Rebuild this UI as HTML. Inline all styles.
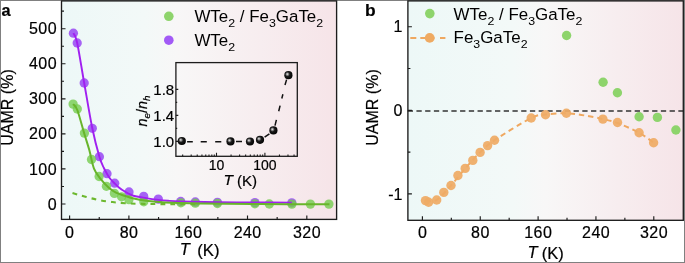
<!DOCTYPE html>
<html><head><meta charset="utf-8"><style>
html,body{margin:0;padding:0;background:#fff;overflow:hidden}
svg{display:block;will-change:transform}
text{font-family:"Liberation Sans", sans-serif;fill:#000;stroke:#000;stroke-width:0.2px}
</style></head><body>
<svg width="685" height="263" viewBox="0 0 685 263">
<defs>
<linearGradient id="ga" x1="0" x2="1" y1="0" y2="0"><stop offset="0" stop-color="#edf8f7"/><stop offset="0.3" stop-color="#f3f9f8"/><stop offset="0.42" stop-color="#f8f7f7"/><stop offset="1" stop-color="#f6e4e8"/></linearGradient>
<linearGradient id="gb" x1="0" x2="1" y1="0" y2="0"><stop offset="0" stop-color="#edf8f7"/><stop offset="0.38" stop-color="#f3f9f8"/><stop offset="0.5" stop-color="#f8f7f7"/><stop offset="1" stop-color="#f6e4e8"/></linearGradient>
<radialGradient id="sph" cx="0.42" cy="0.42" r="0.62" fx="0.36" fy="0.36"><stop offset="0" stop-color="#f4f4f4"/><stop offset="0.18" stop-color="#9a9a9a"/><stop offset="0.45" stop-color="#1a1a1a"/><stop offset="1" stop-color="#000"/></radialGradient>
</defs>
<rect x="0" y="0" width="685" height="263" fill="#fff"/>
<path d="M0.5,0V263M684.5,0V263M0,0.5H685M0,262.5H685" stroke="#808080" stroke-width="1" fill="none"/>
<rect x="61.5" y="0.9" width="275.1" height="218.5" fill="url(#ga)"/>
<circle cx="73.4" cy="33.2" r="4.65" fill="#a562f4"/>
<circle cx="77.2" cy="43.0" r="4.65" fill="#a562f4"/>
<circle cx="84.2" cy="83.0" r="4.65" fill="#a562f4"/>
<circle cx="92.3" cy="128.3" r="4.65" fill="#a562f4"/>
<circle cx="99.4" cy="156.7" r="4.65" fill="#a562f4"/>
<circle cx="107.0" cy="173.7" r="4.65" fill="#a562f4"/>
<circle cx="114.7" cy="183.2" r="4.65" fill="#a562f4"/>
<circle cx="129.0" cy="192.0" r="4.65" fill="#a562f4"/>
<circle cx="143.7" cy="196.4" r="4.65" fill="#a562f4"/>
<circle cx="158.3" cy="199.1" r="4.65" fill="#a562f4"/>
<circle cx="180.7" cy="201.5" r="4.65" fill="#a562f4"/>
<circle cx="195.3" cy="202.0" r="4.65" fill="#a562f4"/>
<circle cx="217.4" cy="202.3" r="4.65" fill="#a562f4"/>
<circle cx="254.9" cy="202.6" r="4.65" fill="#a562f4"/>
<circle cx="291.8" cy="202.8" r="4.65" fill="#a562f4"/>
<circle cx="73.1" cy="104.1" r="4.65" fill="#74cc4d" fill-opacity="0.8"/>
<circle cx="77.3" cy="109.0" r="4.65" fill="#74cc4d" fill-opacity="0.8"/>
<circle cx="84.4" cy="133.1" r="4.65" fill="#74cc4d" fill-opacity="0.8"/>
<circle cx="91.5" cy="159.5" r="4.65" fill="#74cc4d" fill-opacity="0.8"/>
<circle cx="99.1" cy="176.5" r="4.65" fill="#74cc4d" fill-opacity="0.8"/>
<circle cx="106.4" cy="186.3" r="4.65" fill="#74cc4d" fill-opacity="0.8"/>
<circle cx="114.4" cy="193.4" r="4.65" fill="#74cc4d" fill-opacity="0.8"/>
<circle cx="121.6" cy="196.8" r="4.65" fill="#74cc4d" fill-opacity="0.8"/>
<circle cx="128.9" cy="199.7" r="4.65" fill="#74cc4d" fill-opacity="0.8"/>
<circle cx="143.8" cy="201.8" r="4.65" fill="#74cc4d" fill-opacity="0.8"/>
<circle cx="180.9" cy="202.8" r="4.65" fill="#74cc4d" fill-opacity="0.8"/>
<circle cx="195.3" cy="203.2" r="4.65" fill="#74cc4d" fill-opacity="0.8"/>
<circle cx="217.4" cy="203.5" r="4.65" fill="#74cc4d" fill-opacity="0.8"/>
<circle cx="254.9" cy="203.8" r="4.65" fill="#74cc4d" fill-opacity="0.8"/>
<circle cx="269.3" cy="204.0" r="4.65" fill="#74cc4d" fill-opacity="0.8"/>
<circle cx="291.9" cy="204.1" r="4.65" fill="#74cc4d" fill-opacity="0.8"/>
<circle cx="310.4" cy="204.1" r="4.65" fill="#74cc4d" fill-opacity="0.8"/>
<circle cx="328.9" cy="204.1" r="4.65" fill="#74cc4d" fill-opacity="0.8"/>
<path d="M72.50,193.10 C73.75,193.45 77.08,194.38 80.00,195.20 C82.92,196.02 86.67,197.17 90.00,198.00 C93.33,198.83 96.33,199.53 100.00,200.20 C103.67,200.87 107.83,201.50 112.00,202.00 C116.17,202.50 120.33,202.90 125.00,203.20 C129.67,203.50 134.17,203.65 140.00,203.80 C145.83,203.95 150.00,204.02 160.00,204.10 C170.00,204.18 193.33,204.27 200.00,204.30" fill="none" stroke="#6cb82e" stroke-width="2.1" stroke-dasharray="4.9,5"/>
<path d="M73.40,33.20 C74.03,34.83 75.40,34.70 77.20,43.00 C79.00,51.30 81.68,68.78 84.20,83.00 C86.72,97.22 89.77,116.00 92.30,128.30 C94.83,140.60 97.47,150.18 99.40,156.80 C101.33,163.42 102.63,165.17 103.90,168.00 C105.17,170.83 105.92,171.97 107.00,173.80 C108.08,175.63 109.08,177.37 110.40,179.00 C111.72,180.63 113.58,182.28 114.90,183.60 C116.22,184.92 116.72,185.62 118.30,186.90 C119.88,188.18 122.00,189.87 124.40,191.30 C126.80,192.73 129.10,194.37 132.70,195.50 C136.30,196.63 141.73,197.37 146.00,198.10 C150.27,198.83 154.63,199.45 158.30,199.90 C161.97,200.35 164.27,200.55 168.00,200.80 C171.73,201.05 172.47,201.17 180.70,201.40 C188.93,201.63 205.03,202.02 217.40,202.20 C229.77,202.38 242.50,202.43 254.90,202.50 C267.30,202.57 285.65,202.58 291.80,202.60" fill="none" stroke="#a020f0" stroke-width="1.9"/>
<path d="M73.10,104.10 C73.80,105.08 75.42,105.02 77.30,110.00 C79.18,114.98 82.40,127.33 84.40,134.00 C86.40,140.67 87.70,144.23 89.30,150.00 C90.90,155.77 92.08,163.73 94.00,168.60 C95.92,173.47 98.33,176.00 100.80,179.20 C103.27,182.40 106.27,185.55 108.80,187.80 C111.33,190.05 113.40,191.38 116.00,192.70 C118.60,194.02 121.62,194.77 124.40,195.70 C127.18,196.63 129.10,197.45 132.70,198.30 C136.30,199.15 140.62,200.08 146.00,200.80 C151.38,201.52 156.00,202.13 165.00,202.60 C174.00,203.07 184.17,203.35 200.00,203.60 C215.83,203.85 238.42,203.98 260.00,204.10 C281.58,204.22 317.92,204.27 329.50,204.30" fill="none" stroke="#68b52b" stroke-width="2.0"/>
<rect x="61.5" y="0.9" width="275.1" height="218.5" fill="none" stroke="#1c1c1c" stroke-width="1.35"/>
<path d="M61.5,204.00h4 M61.5,186.47h2.5 M61.5,168.94h4 M61.5,151.41h2.5 M61.5,133.88h4 M61.5,116.35h2.5 M61.5,98.82h4 M61.5,81.29h2.5 M61.5,63.76h4 M61.5,46.23h2.5 M61.5,28.70h4 M61.5,11.17h2.5 M69.60,219.4v-4 M99.25,219.4v-2.5 M128.90,219.4v-4 M158.56,219.4v-2.5 M188.21,219.4v-4 M217.86,219.4v-2.5 M247.51,219.4v-4 M277.16,219.4v-2.5 M306.82,219.4v-4" stroke="#1c1c1c" stroke-width="1.15" fill="none"/>
<text x="57.0" y="209.60" font-size="16" letter-spacing="0.45" text-anchor="end">0</text>
<text x="57.0" y="174.54" font-size="16" letter-spacing="0.45" text-anchor="end">100</text>
<text x="57.0" y="139.48" font-size="16" letter-spacing="0.45" text-anchor="end">200</text>
<text x="57.0" y="104.42" font-size="16" letter-spacing="0.45" text-anchor="end">300</text>
<text x="57.0" y="69.36" font-size="16" letter-spacing="0.45" text-anchor="end">400</text>
<text x="57.0" y="34.30" font-size="16" letter-spacing="0.45" text-anchor="end">500</text>
<text x="69.80" y="238.1" font-size="16" letter-spacing="0.45" text-anchor="middle">0</text>
<text x="129.10" y="238.1" font-size="16" letter-spacing="0.45" text-anchor="middle">80</text>
<text x="188.41" y="238.1" font-size="16" letter-spacing="0.45" text-anchor="middle">160</text>
<text x="247.71" y="238.1" font-size="16" letter-spacing="0.45" text-anchor="middle">240</text>
<text x="307.02" y="238.1" font-size="16" letter-spacing="0.45" text-anchor="middle">320</text>
<text x="179.8" y="255.0" font-size="16.5" font-style="italic">T</text>
<text x="197.2" y="255.7" font-size="16.7">(K)</text>
<text transform="translate(13.4,107.5) rotate(-90)" font-size="16" text-anchor="middle">UAMR (%)</text>
<text x="1.6" y="16.3" font-size="16.3" font-weight="bold">a</text>
<circle cx="168.8" cy="16.3" r="4.8" fill="#8ed46c"/>
<circle cx="168.8" cy="40.2" r="4.8" fill="#a25af6"/>
<text transform="translate(194.4,22.0) scale(1.085,1)" font-size="15.6" style="stroke:none"><tspan dy="0">WTe</tspan><tspan font-size="11.4" dy="5.0">2</tspan><tspan dy="-5.0"> / Fe</tspan><tspan font-size="11.4" dy="5.0">3</tspan><tspan dy="-5.0">GaTe</tspan><tspan font-size="11.4" dy="5.0">2</tspan></text>
<text transform="translate(194.4,46.0) scale(1.085,1)" font-size="15.6" style="stroke:none"><tspan dy="0">WTe</tspan><tspan font-size="11.4" dy="5.0">2</tspan></text>
<path d="M187.1,141.8L192.8,141.8 M200.7,141.8L206.8,141.8 M215.2,141.8L221.3,141.8 M236.0,141.6L242.0,141.6 M264.6,137.2L269.4,133.9 M276.4,119.9L275.0,125.6 M280.1,105.6L278.7,111.3 M282.9,94.2L281.8,98.5 M286.6,79.6L285.0,85.0" fill="none" stroke="#111" stroke-width="1.5"/>
<circle cx="181.8" cy="141.0" r="4.1" fill="url(#sph)"/>
<circle cx="230.5" cy="141.4" r="4.1" fill="url(#sph)"/>
<circle cx="250.0" cy="141.5" r="4.1" fill="url(#sph)"/>
<circle cx="260.0" cy="139.8" r="4.1" fill="url(#sph)"/>
<circle cx="273.4" cy="130.4" r="4.1" fill="url(#sph)"/>
<circle cx="288.4" cy="75.2" r="4.1" fill="url(#sph)"/>
<rect x="175.9" y="62.6" width="121.4" height="93.70000000000002" fill="none" stroke="#1c1c1c" stroke-width="1.3"/>
<path d="M175.9,141.40h2.4 M175.9,128.40h1.3 M175.9,115.40h2.4 M175.9,102.40h1.3 M175.9,89.40h2.4 M182.67,156.3v-1.8 M191.19,156.3v-1.8 M197.24,156.3v-1.8 M201.93,156.3v-1.8 M205.76,156.3v-1.8 M209.00,156.3v-1.8 M211.81,156.3v-1.8 M214.29,156.3v-1.8 M216.50,156.3v-3.5 M231.07,156.3v-1.8 M239.59,156.3v-1.8 M245.64,156.3v-1.8 M250.33,156.3v-1.8 M254.16,156.3v-1.8 M257.40,156.3v-1.8 M260.21,156.3v-1.8 M262.69,156.3v-1.8 M264.90,156.3v-3.5 M279.47,156.3v-1.8 M287.99,156.3v-1.8 M294.04,156.3v-1.8" stroke="#1c1c1c" stroke-width="1.1" fill="none"/>
<text x="174.2" y="146.70" font-size="15" text-anchor="end">1.0</text>
<text x="174.2" y="120.70" font-size="15" text-anchor="end">1.4</text>
<text x="174.2" y="94.70" font-size="15" text-anchor="end">1.8</text>
<text x="216.50" y="169.6" font-size="14" text-anchor="middle">10</text>
<text x="264.90" y="169.6" font-size="14" text-anchor="middle">100</text>
<text x="223.6" y="184.7" font-size="15.5" font-style="italic">T</text>
<text x="236.9" y="185.5" font-size="15.1">(K)</text>
<text transform="translate(146.6,111.0) rotate(-90)" font-size="14.4" text-anchor="middle"><tspan font-style="italic">n</tspan><tspan font-size="9.8" font-style="italic" dy="3">e</tspan><tspan dy="-3">/</tspan><tspan font-style="italic">n</tspan><tspan font-size="9.8" font-style="italic" dy="3">h</tspan></text>
<rect x="407.9" y="0.9" width="275.4" height="219.4" fill="url(#gb)"/>
<path d="M407.7,111.0H683.3" stroke="#333" stroke-width="1.5" stroke-dasharray="5.3,3.43"/>
<path d="M425.50,200.60 C427.37,200.47 432.45,202.32 436.70,199.80 C440.95,197.28 446.25,190.73 451.00,185.50 C455.75,180.27 460.35,173.92 465.20,168.40 C470.05,162.88 475.22,157.10 480.10,152.40 C484.98,147.70 485.98,145.93 494.50,140.20 C503.02,134.47 522.70,122.28 531.20,118.00 C539.70,113.72 539.63,115.28 545.50,114.50 C551.37,113.72 559.82,113.13 566.40,113.30 C572.98,113.47 578.92,114.53 585.00,115.50 C591.08,116.47 597.48,117.85 602.90,119.10 C608.32,120.35 611.47,120.72 617.50,123.00 C623.53,125.28 633.08,129.52 639.10,132.80 C645.12,136.08 651.18,141.05 653.60,142.70" fill="none" stroke="#efa860" stroke-width="2" stroke-dasharray="5.4,3.9"/>
<circle cx="425.5" cy="200.6" r="4.7" fill="#efab65" fill-opacity="0.93"/>
<circle cx="428.6" cy="202.2" r="4.7" fill="#efab65" fill-opacity="0.93"/>
<circle cx="436.7" cy="200.0" r="4.7" fill="#efab65" fill-opacity="0.93"/>
<circle cx="443.8" cy="192.4" r="4.7" fill="#efab65" fill-opacity="0.93"/>
<circle cx="451.0" cy="185.5" r="4.7" fill="#efab65" fill-opacity="0.93"/>
<circle cx="457.9" cy="175.5" r="4.7" fill="#efab65" fill-opacity="0.93"/>
<circle cx="465.2" cy="168.4" r="4.7" fill="#efab65" fill-opacity="0.93"/>
<circle cx="472.8" cy="160.4" r="4.7" fill="#efab65" fill-opacity="0.93"/>
<circle cx="480.1" cy="152.4" r="4.7" fill="#efab65" fill-opacity="0.93"/>
<circle cx="487.6" cy="145.6" r="4.7" fill="#efab65" fill-opacity="0.93"/>
<circle cx="494.5" cy="140.2" r="4.7" fill="#efab65" fill-opacity="0.93"/>
<circle cx="531.2" cy="118.0" r="4.7" fill="#efab65" fill-opacity="0.93"/>
<circle cx="545.5" cy="114.7" r="4.7" fill="#efab65" fill-opacity="0.93"/>
<circle cx="566.4" cy="113.3" r="4.7" fill="#efab65" fill-opacity="0.93"/>
<circle cx="602.9" cy="119.1" r="4.7" fill="#efab65" fill-opacity="0.93"/>
<circle cx="617.5" cy="122.5" r="4.7" fill="#efab65" fill-opacity="0.93"/>
<circle cx="639.1" cy="132.8" r="4.7" fill="#efab65" fill-opacity="0.93"/>
<circle cx="653.6" cy="142.7" r="4.7" fill="#efab65" fill-opacity="0.93"/>
<circle cx="566.6" cy="35.5" r="4.7" fill="#8ed46c"/>
<circle cx="603.1" cy="82.3" r="4.7" fill="#8ed46c"/>
<circle cx="617.4" cy="92.8" r="4.7" fill="#8ed46c"/>
<circle cx="639.1" cy="116.7" r="4.7" fill="#8ed46c"/>
<circle cx="657.4" cy="117.4" r="4.7" fill="#8ed46c"/>
<circle cx="675.9" cy="130.0" r="4.7" fill="#8ed46c"/>
<rect x="407.9" y="0.9" width="275.4" height="219.4" fill="none" stroke="#1c1c1c" stroke-width="1.35"/>
<path d="M407.9,193.90h4 M407.9,152.10h2.5 M407.9,110.30h4 M407.9,68.50h2.5 M407.9,26.70h4 M422.40,220.3v-4 M451.32,220.3v-2.5 M480.25,220.3v-4 M509.17,220.3v-2.5 M538.10,220.3v-4 M567.02,220.3v-2.5 M595.94,220.3v-4 M624.87,220.3v-2.5 M653.79,220.3v-4" stroke="#1c1c1c" stroke-width="1.15" fill="none"/>
<text x="402.5" y="199.60" font-size="16" text-anchor="end">-1</text>
<text x="402.5" y="116.00" font-size="16" text-anchor="end">0</text>
<text x="402.5" y="32.40" font-size="16" text-anchor="end">1</text>
<text x="422.60" y="238.0" font-size="16" letter-spacing="0.45" text-anchor="middle">0</text>
<text x="480.45" y="238.0" font-size="16" letter-spacing="0.45" text-anchor="middle">80</text>
<text x="538.30" y="238.0" font-size="16" letter-spacing="0.45" text-anchor="middle">160</text>
<text x="596.14" y="238.0" font-size="16" letter-spacing="0.45" text-anchor="middle">240</text>
<text x="653.99" y="238.0" font-size="16" letter-spacing="0.45" text-anchor="middle">320</text>
<text x="527.6" y="258.4" font-size="16.5" font-style="italic">T</text>
<text x="541.8" y="259.0" font-size="16.5">(K)</text>
<text transform="translate(378.3,107.5) rotate(-90)" font-size="16" text-anchor="middle">UAMR (%)</text>
<text x="365.0" y="16.1" font-size="17.4" font-weight="bold">b</text>
<circle cx="429.8" cy="13.6" r="4.8" fill="#8ed46c"/>
<path d="M410.3,37.9H416.3M420.3,37.9H427M432,37.9H434.5M440,37.9H445.4" stroke="#efa860" stroke-width="2" fill="none"/>
<circle cx="429.7" cy="37.9" r="4.9" fill="#efaa62"/>
<text transform="translate(453.6,19.6) scale(1.085,1)" font-size="15.6" style="stroke:none"><tspan dy="0">WTe</tspan><tspan font-size="11.4" dy="5.0">2</tspan><tspan dy="-5.0"> / Fe</tspan><tspan font-size="11.4" dy="5.0">3</tspan><tspan dy="-5.0">GaTe</tspan><tspan font-size="11.4" dy="5.0">2</tspan></text>
<text transform="translate(453.6,43.4) scale(1.085,1)" font-size="15.6" style="stroke:none"><tspan dy="0">Fe</tspan><tspan font-size="11.4" dy="5.0">3</tspan><tspan dy="-5.0">GaTe</tspan><tspan font-size="11.4" dy="5.0">2</tspan></text>
</svg>
</body></html>
